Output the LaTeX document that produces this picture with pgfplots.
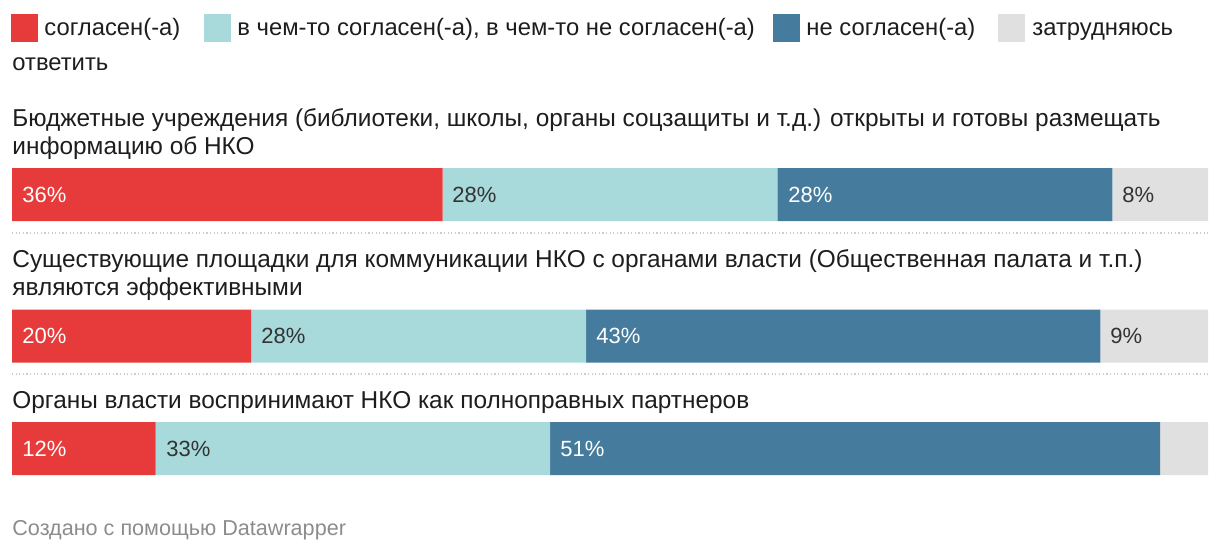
\documentclass[border=0pt]{standalone}
\usepackage{fontspec}
\setmainfont{Liberation Sans}
\usepackage{pgfplots}
\pgfplotsset{compat=1.18}

\definecolor{cRed}{HTML}{E63B3A}
\definecolor{cTeal}{HTML}{A8D9DB}
\definecolor{cBlue}{HTML}{457B9D}
\definecolor{cGray}{HTML}{E0E0E0}
\definecolor{cText}{HTML}{1D1D1D}
\definecolor{cDark}{HTML}{333333}
\definecolor{cFoot}{HTML}{8C8C8C}
\definecolor{cRule}{HTML}{CCCCCC}

\begin{document}
\begin{tikzpicture}
\path[use as bounding box] (0,0) rectangle (610pt,277pt);

% bars, y in pixels from the top
\begin{axis}[
    at={(6pt,0pt)}, anchor=south west,
    scale only axis, width=598pt, height=277pt,
    xmin=0, xmax=100, ymin=0, ymax=554, y dir=reverse,
    hide axis, clip=false,
    xbar stacked, bar width=53,
]
\addplot[fill=cRed, draw=none]  coordinates {(36,194.5) (20,336) (12,448.5)};
\addplot[fill=cTeal, draw=none] coordinates {(28,194.5) (28,336) (33,448.5)};
\addplot[fill=cBlue, draw=none] coordinates {(28,194.5) (43,336) (51,448.5)};
\addplot[fill=cGray, draw=none] coordinates {(8,194.5) (9,336) (4,448.5)};
\end{axis}

\begin{scope}[x=0.5pt, y=-0.5pt, shift={(0,277pt)},
    every node/.style={inner sep=0pt, anchor=base west, font=\fontsize{12.2pt}{14pt}\selectfont}]
  % legend
  \begin{scope}[every node/.append style={font=\fontsize{11.9pt}{14pt}\selectfont}]
  \fill[cRed]  (11,14) rectangle (38,42);
  \node[text=cText] at (44,35) {согласен(-а)};
  \fill[cTeal] (204,14) rectangle (231,42);
  \node[text=cText] at (237,35) {в чем-то согласен(-а), в чем-то не согласен(-а)};
  \fill[cBlue] (773,14) rectangle (800,42);
  \node[text=cText] at (806,35) {не согласен(-а)};
  \fill[cGray] (998,14) rectangle (1025,42);
  \node[text=cText] at (1032,35) {затрудняюсь};
  \node[text=cText] at (12,70) {ответить};
  \end{scope}

  % row labels
  \node[text=cText] at (12,126) {Бюджетные учреждения (библиотеки, школы, органы соцзащиты и т.д.) открыты и готовы размещать};
  \node[text=cText] at (12,154) {информацию об НКО};
  \node[text=cText] at (12,267) {Существующие площадки для коммуникации НКО с органами власти (Общественная палата и т.п.)};
  \node[text=cText] at (12,295) {являются эффективными};
  \node[text=cText] at (12,408) {Органы власти воспринимают НКО как полноправных партнеров};

  % separators
  \draw[cRule, line width=0.6pt, dash pattern=on 0.6pt off 1.2pt] (12,233) -- (1208,233);
  \draw[cRule, line width=0.6pt, dash pattern=on 0.6pt off 1.2pt] (12,374) -- (1208,374);

  % value labels
  \begin{scope}[every node/.append style={font=\fontsize{11pt}{13pt}\selectfont}]
  \node[text=white] at (22,202) {36\%};
  \node[text=cDark] at (452,202) {28\%};
  \node[text=white] at (788,202) {28\%};
  \node[text=cDark] at (1122,202) {8\%};
  \node[text=white] at (22,343) {20\%};
  \node[text=cDark] at (261,343) {28\%};
  \node[text=white] at (596,343) {43\%};
  \node[text=cDark] at (1110,343) {9\%};
  \node[text=white] at (22,456) {12\%};
  \node[text=cDark] at (166,456) {33\%};
  \node[text=white] at (560,456) {51\%};
  \end{scope}

  % footer
  \node[text=cFoot, font=\fontsize{10.8pt}{12pt}\selectfont] at (12,535) {Создано с помощью Datawrapper};
\end{scope}
\end{tikzpicture}
\end{document}
